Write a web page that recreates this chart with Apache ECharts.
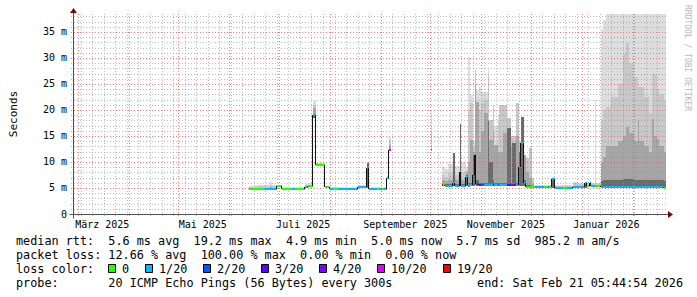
<!DOCTYPE html>
<html><head><meta charset="utf-8">
<script src="https://cdn.jsdelivr.net/npm/echarts@6/dist/echarts.min.js"></script>
<style>html,body{margin:0;padding:0;background:#fff}#c{width:697px;height:297px}</style>
</head><body><div id="c"></div>
<script>
// ================= DATA =================
const rangeStart = '2025-02-26 05:44:54';
const rangeEnd = '2026-02-21 05:44:54';
const yMaxMs = 38.46;

const segStart = [
 '2025-06-13','2025-06-18','2025-06-22','2025-06-26','2025-06-27','2025-06-30','2025-07-03','2025-07-09','2025-07-11','2025-07-17',
 '2025-07-19','2025-07-22','2025-07-24','2025-07-29','2025-08-01','2025-08-03','2025-08-06','2025-08-18','2025-08-24','2025-08-25',
 '2025-08-30','2025-08-31','2025-09-02','2025-09-03','2025-09-05','2025-09-06','2025-09-07','2025-10-01 12:00','2025-10-02 06:00','2025-10-08',
 '2025-10-09','2025-10-10','2025-10-12','2025-10-15','2025-10-16','2025-10-19','2025-10-20','2025-10-23','2025-10-24','2025-10-25',
 '2025-10-27','2025-10-28','2025-10-29','2025-10-31','2025-11-01','2025-11-03','2025-11-05','2025-11-06','2025-11-08','2025-11-09',
 '2025-11-11','2025-11-12','2025-11-14','2025-11-17','2025-11-19','2025-11-20','2025-11-22','2025-11-24','2025-11-25','2025-11-27',
 '2025-11-28','2025-11-30','2025-12-02','2025-12-03','2025-12-04','2025-12-09','2025-12-11','2025-12-13','2025-12-14','2025-12-16',
 '2025-12-21','2025-12-23','2025-12-27','2025-12-30','2026-01-03','2026-01-04','2026-01-06','2026-01-07','2026-01-09','2026-01-10',
 '2026-01-13','2026-01-14','2026-01-16','2026-01-19','2026-01-23','2026-01-26','2026-01-28','2026-01-30','2026-02-02','2026-02-04',
 '2026-02-05','2026-02-08','2026-02-11','2026-02-13','2026-02-14','2026-02-16','2026-02-17','2026-02-20'
];
// median rtt in ms (null = no data)
const medianMs = [
 4.8,4.8,4.9,4.9,4.9,5.3,4.85,4.85,4.85,5.1,
 5.3,19.0,9.5,5.1,4.8,4.9,4.85,5.2,8.8,4.75,
 4.75,4.75,4.75,4.75,6.9,12.3,null,12.3,null,5.6,
 5.6,5.4,5.4,6.0,5.4,8.1,5.4,7.1,5.5,5.6,
 7.5,11.3,5.7,5.6,5.5,5.5,5.5,5.5,5.6,5.5,
 5.5,5.5,5.5,5.6,5.5,5.6,5.5,9.1,13.6,6.0,
 5.2,5.1,5.1,5.1,5.1,5.1,5.1,5.1,6.7,5.0,
 5.0,5.0,5.1,5.2,5.9,5.4,5.9,5.3,5.3,5.3,
 5.1,5.1,5.1,5.1,5.1,5.1,5.1,5.1,5.1,5.1,
 5.1,5.1,5.1,5.1,5.1,5.1,5.1,5.0
];
// lost pings out of 20
const lossCount = [
 0,0,1,1,1,0,0,1,0,1,
 0,1,0,0,1,0,1,1,1,1,
 0,1,0,1,1,10,null,1,null,19,
 0,1,1,1,1,1,1,1,1,1,
 10,1,2,3,2,1,1,1,3,1,
 2,1,1,3,2,4,1,1,1,1,
 0,0,0,0,1,0,1,0,1,1,
 0,1,1,1,1,0,1,1,1,0,
 1,1,1,1,1,1,1,1,1,1,
 1,1,1,1,1,1,1,0
];
// smoke band boundaries (ms)
const smokeMin = [
 4.8,4.8,4.9,4.9,4.9,5.3,4.85,4.85,4.85,5.1,
 5.3,18.5,9.5,5.1,4.8,4.9,4.85,5.2,5.0,4.75,
 4.75,4.75,4.75,4.75,6.9,12.3,null,12.3,null,5.3,
 5.3,5.2,5.2,5.3,5.2,5.3,5.2,5.3,5.2,5.3,
 5.3,5.5,5.3,5.3,5.3,5.3,5.3,5.3,5.3,5.3,
 5.3,5.3,5.3,5.3,5.3,5.3,5.3,5.3,5.3,5.3,
 5.0,5.0,5.0,5.1,5.1,5.1,5.1,5.1,5.0,5.0,
 5.0,5.0,5.1,5.2,5.0,5.4,5.9,5.3,5.3,5.3,
 5.0,5.0,5.0,5.0,5.0,5.0,5.0,5.0,5.0,5.0,
 5.0,5.0,5.0,5.0,5.0,5.0,5.0,5.0
];
const smokeDark = [
 4.8,4.8,4.9,4.9,4.9,5.3,4.85,4.85,4.85,5.1,
 5.3,19.3,9.5,5.1,4.8,4.9,4.85,5.2,9.75,4.75,
 4.75,4.75,4.75,4.75,6.9,12.3,null,12.3,null,5.8,
 5.8,5.8,5.8,11.8,5.8,17.3,5.8,7.5,6.0,6.0,
 11.3,6.0,6.5,6.0,6.0,6.0,17.8,10.0,6.5,6.0,
 6.0,6.0,6.0,16.5,6.0,13.6,6.0,12.0,18.7,6.5,
 5.5,5.5,5.3,5.1,5.1,5.1,5.1,5.1,6.9,5.0,
 5.0,5.0,5.1,5.2,6.0,5.4,5.9,5.3,5.3,5.3,
 6.3,6.5,6.5,6.5,6.5,6.8,6.8,6.8,6.5,6.5,
 6.5,6.5,6.5,6.5,6.5,6.5,6.5,6.3
];
const smokeMid = [
 4.9,4.9,5.0,5.1,5.0,5.4,4.9,4.9,4.9,5.2,
 5.4,20.3,9.6,5.2,4.9,5.0,4.9,5.3,9.75,4.85,
 4.85,4.85,4.85,4.85,7.0,13.2,null,12.5,null,6.6,
 6.5,6.3,6.5,11.8,6.5,17.3,6.5,8.0,10.0,14.2,
 12.0,24.8,21.6,12.0,16.0,19.4,17.8,14.2,15.8,13.3,
 12.0,12.0,15.6,16.5,13.0,13.6,15.0,12.0,18.7,11.3,
 8.0,7.0,5.8,5.2,5.2,5.2,5.2,5.2,6.9,5.1,
 5.1,5.1,5.3,5.4,6.0,5.6,6.0,5.5,5.6,5.5,
 10.0,11.0,13.0,13.0,14.0,15.0,16.8,15.5,14.0,18.0,
 14.0,13.0,12.0,18.3,15.0,14.5,13.0,12.0
];
const smokeLight = [
 5.1,5.3,5.3,5.5,5.3,5.5,5.0,5.0,5.0,5.5,
 5.6,21.0,9.8,5.3,5.0,5.1,5.0,5.4,9.8,4.95,
 4.95,4.95,4.95,4.95,7.2,14.2,null,16.0,null,7.6,
 7.5,7.2,7.8,11.8,7.5,17.3,8.0,8.5,20.0,21.3,
 13.0,27.7,21.6,20.0,21.3,22.0,26.7,18.1,21.0,13.3,
 17.8,21.0,21.0,18.5,15.0,15.0,21.3,14.0,18.7,11.3,
 10.7,12.6,7.0,5.4,5.4,5.4,5.4,5.4,7.0,5.3,
 5.3,5.4,5.9,5.8,6.1,5.9,6.2,5.8,6.5,5.8,
 18.0,20.0,20.6,22.5,25.0,31.0,32.9,29.0,26.3,24.5,
 24.5,22.5,19.5,27.0,27.0,24.0,23.0,22.0
];
const smokeMax = [
 5.3,5.6,5.6,6.2,5.6,5.6,5.2,5.2,5.2,5.8,
 6.0,21.8,9.9,5.4,5.2,5.2,5.2,5.5,10.0,5.1,
 5.1,5.1,5.1,5.1,7.3,14.9,null,19.4,null,9.4,
 9.0,8.6,9.6,11.8,9.2,17.3,10.0,9.0,30.2,22.9,
 14.0,27.7,23.8,24.5,23.5,23.5,27.7,18.1,21.0,17.0,
 19.0,21.0,21.0,18.5,15.0,15.0,21.3,14.0,18.7,11.3,
 10.7,12.6,7.0,5.6,5.6,5.6,5.6,5.6,7.1,5.5,
 5.5,5.6,6.2,6.0,6.2,6.0,6.3,6.0,21.9,6.0,
 35.4,37.3,38.4,38.4,38.4,38.4,38.4,38.4,38.4,38.4,
 38.4,38.4,38.4,38.4,38.4,38.4,38.4,38.4
];

const lossSteps  = [0, 1, 2, 3, 4, 10, 19];
const lossColors = ['#26ff00','#00b8ff','#0059ff','#5e00ff','#7e00ff','#dd00ff','#ff0000'];
const lossLabels = ['0','1/20','2/20','3/20','4/20','10/20','19/20'];

const monthStarts = ['2025-03-01','2025-04-01','2025-05-01','2025-06-01','2025-07-01','2025-08-01',
                     '2025-09-01','2025-10-01','2025-11-01','2025-12-01','2026-01-01','2026-02-01'];
const xLabelDates = ['2025-03-16','2025-05-16','2025-07-16','2025-09-16','2025-11-16','2026-01-16'];
const xLabelTexts = ['März 2025','Mai 2025','Juli 2025','September 2025','November 2025','Januar 2026'];

const legendRtt  = 'median rtt:  5.6 ms avg  19.2 ms max  4.9 ms min  5.0 ms now  5.7 ms sd  985.2 m am/s';
const legendLoss = 'packet loss: 12.66 % avg  100.00 % max  0.00 % min  0.00 % now';
const legendColorTitle = 'loss color:';
const legendProbe = 'probe:       20 ICMP Echo Pings (56 Bytes) every 300s';
const legendEnd = 'end: Sat Feb 21 05:44:54 2026';
const watermark = 'RRDTOOL / TOBI OETIKER';
const yAxisTitle = 'Seconds';

// ================= STYLE / HELPERS =================
const MONO = '"DejaVu Sans Mono", monospace';
const smokeColors = ['#6a6a6a', '#a6a6a6', '#c8c8c8', '#dddddd'];
function ts(s) {
  const m = s.match(/(\d+)-(\d+)-(\d+)(?:[ T](\d+):(\d+)(?::(\d+))?)?/);
  return new Date(+m[1], +m[2] - 1, +m[3], +(m[4] || 0), +(m[5] || 0), +(m[6] || 0)).getTime();
}
function lossColor(n) {
  let c = lossColors[0];
  lossSteps.forEach((s, k) => { if (n >= s) c = lossColors[k]; });
  return c;
}
const nb = s => s.replace(/ /g, '\u00a0');

const startTs = ts(rangeStart), endTs = ts(rangeEnd);
const segEndTs = segStart.map((s, i) => i + 1 < segStart.length ? ts(segStart[i + 1]) : endTs);
const smokeData = [], medData = [];
segStart.forEach((s, i) => {
  if (medianMs[i] == null) return;
  smokeData.push([ts(s), segEndTs[i], smokeMin[i], smokeDark[i], smokeMid[i], smokeLight[i], smokeMax[i]]);
  const nxt = (i + 1 < medianMs.length && medianMs[i + 1] != null) ? medianMs[i + 1] : -1;
  medData.push([ts(s), segEndTs[i], medianMs[i], lossCount[i], nxt]);
});

// grid lines: weekly (Mondays) minor, monthly major
const vgridData = [];
{
  const s = new Date(startTs);
  let k = 0;
  while (true) {
    const d = new Date(s.getFullYear(), s.getMonth(), s.getDate() + k);
    if (d.getTime() > endTs) break;
    if (d.getDay() === 1 && d.getTime() >= startTs) vgridData.push([d.getTime(), 0]);
    k++;
  }
  monthStarts.forEach(m => vgridData.push([ts(m), 1]));
}
const hgridData = [];
for (let v = 1; v < yMaxMs; v++) hgridData.push([startTs, v, v % 5 === 0 ? 1 : 0]);

const MAJOR = 'rgba(230,100,100,0.8)', MINOR = 'rgba(140,140,140,0.6)';
const chart = echarts.init(document.getElementById('c'), null, { renderer: 'svg' });

const option = {
  animation: false,
  backgroundColor: '#ffffff',
  grid: { left: 66, top: 14, width: 600, height: 200, containLabel: false },
  xAxis: {
    type: 'time', min: startTs, max: endTs,
    axisLine: { show: false }, axisTick: { show: false }, axisLabel: { show: false }, splitLine: { show: false }
  },
  yAxis: {
    type: 'value', min: 0, max: yMaxMs, interval: 5,
    axisLine: { show: false }, axisTick: { show: false }, splitLine: { show: false },
    axisLabel: {
      margin: 6, color: '#000', fontFamily: MONO, fontSize: 10,
      formatter: v => (Math.abs(v % 5) < 1e-6 ? (v === 0 ? '0' : v + ' m') : '')
    },
    name: yAxisTitle, nameLocation: 'middle', nameGap: 54, nameRotate: 90,
    nameTextStyle: { color: '#000', fontFamily: MONO, fontSize: 11 }
  },
  series: [
    {
      name: 'smoke', type: 'custom', z: 1, silent: true,
      encode: { x: 0, y: 2 },
      data: smokeData,
      renderItem: (params, api) => {
        const x0 = Math.round(api.coord([api.value(0), 0])[0]);
        const x1 = Math.round(api.coord([api.value(1), 0])[0]);
        const w = Math.max(1, x1 - x0);
        const ys = [2, 3, 4, 5, 6].map(k => Math.round(api.coord([api.value(0), api.value(k)])[1]));
        const children = [];
        for (let b = 0; b < 4; b++) {
          const bot = ys[b], top = ys[b + 1];
          if (bot - top > 0) children.push({ type: 'rect', shape: { x: x0, y: top, width: w, height: bot - top }, style: { fill: smokeColors[b] } });
        }
        return { type: 'group', children };
      }
    },
    {
      name: 'vgrid', type: 'custom', z: 2, silent: true,
      encode: { x: 0, y: 1 },
      data: vgridData,
      renderItem: (params, api) => {
        const cs = params.coordSys;
        const x = Math.round(api.coord([api.value(0), 0])[0]) + 0.5;
        const major = api.value(1) === 1;
        return { type: 'line', shape: { x1: x, y1: cs.y, x2: x, y2: cs.y + cs.height + 2 },
          style: { stroke: major ? MAJOR : MINOR, lineWidth: 1, lineDash: [1, 2] } };
      }
    },
    {
      name: 'hgrid', type: 'custom', z: 2, silent: true,
      encode: { x: 0, y: 1 },
      data: hgridData,
      renderItem: (params, api) => {
        const cs = params.coordSys;
        const y = Math.round(api.coord([api.value(0), api.value(1)])[1]) + 0.5;
        const major = api.value(2) === 1;
        return { type: 'line', shape: { x1: cs.x - 2, y1: y, x2: cs.x + cs.width, y2: y },
          style: { stroke: major ? MAJOR : MINOR, lineWidth: 1, lineDash: [1, 2] } };
      }
    },
    {
      name: 'median', type: 'custom', z: 3, silent: true,
      encode: { x: 0, y: 2 },
      data: medData,
      renderItem: (params, api) => {
        const t0 = api.value(0);
        const x0 = Math.round(api.coord([t0, 0])[0]);
        const x1 = Math.round(api.coord([api.value(1), 0])[0]);
        const w = Math.max(1, x1 - x0);
        const y = Math.round(api.coord([t0, api.value(2)])[1]);
        const children = [];
        children.push({ type: 'rect', shape: { x: x0, y: y - 1, width: w, height: 2 }, style: { fill: lossColor(api.value(3)) } });
        const nxt = api.value(4);
        if (nxt >= 0) {
          const yn = Math.round(api.coord([t0, nxt])[1]);
          if (yn !== y) children.push({ type: 'line', shape: { x1: x0 + w - 0.5, y1: y, x2: x0 + w - 0.5, y2: yn }, style: { stroke: '#111', lineWidth: 1 } });
        }
        return { type: 'group', children };
      }
    },
    {
      name: 'xlabels', type: 'custom', z: 4, silent: true,
      encode: { x: 0, y: 1 },
      data: xLabelDates.map(d => [ts(d), 0]),
      renderItem: (params, api) => {
        const p = api.coord([api.value(0), 0]);
        return { type: 'text', x: p[0], y: p[1] + 10.5,
          style: { text: xLabelTexts[params.dataIndex], fill: '#000', font: '10px ' + MONO, align: 'center', verticalAlign: 'middle' } };
      }
    }
  ]
};
chart.setOption(option);

// axes, arrows, legend text
const pBL = chart.convertToPixel({ gridIndex: 0 }, [startTs, 0]);
const pTR = chart.convertToPixel({ gridIndex: 0 }, [endTs, yMaxMs]);
const xl = Math.round(pBL[0]) + 0.5, yb = Math.round(pBL[1]) + 0.5;
const xr = Math.round(pTR[0]), yt = Math.round(pTR[1]);
const AXIS = '#505050', ARROW = '#7f0000';
const g = [];
g.push({ type: 'line', shape: { x1: xl - 4, y1: yb, x2: xr + 2, y2: yb }, style: { stroke: AXIS, lineWidth: 1 }, z: 10 });
g.push({ type: 'polygon', shape: { points: [[xr + 2, yb - 3.5], [xr + 7, yb], [xr + 2, yb + 3.5]] }, style: { fill: ARROW }, z: 10 });
g.push({ type: 'line', shape: { x1: xl, y1: yb + 4, x2: xl, y2: yt - 1 }, style: { stroke: AXIS, lineWidth: 1 }, z: 10 });
g.push({ type: 'polygon', shape: { points: [[xl - 3.5, yt - 1], [xl, yt - 6], [xl + 3.5, yt - 1]] }, style: { fill: ARROW }, z: 10 });

const LF = '11.8px ' + MONO, CH = 7.1, LX = 16;
const rows = [241, 255, 269, 283];
g.push({ type: 'text', x: LX, y: rows[0], style: { text: nb(legendRtt), font: LF, fill: '#000', verticalAlign: 'middle' } });
g.push({ type: 'text', x: LX, y: rows[1], style: { text: nb(legendLoss), font: LF, fill: '#000', verticalAlign: 'middle' } });
g.push({ type: 'text', x: LX, y: rows[2], style: { text: nb(legendColorTitle), font: LF, fill: '#000', verticalAlign: 'middle' } });
let bx = LX + 13 * CH;
lossLabels.forEach((lab, k) => {
  const x = Math.round(bx);
  g.push({ type: 'rect', shape: { x: x + 0.5, y: rows[2] - 4.5, width: 7, height: 8 }, style: { fill: lossColors[k], stroke: '#000', lineWidth: 1 } });
  g.push({ type: 'text', x: x + 14, y: rows[2], style: { text: lab, font: LF, fill: '#000', verticalAlign: 'middle' } });
  bx = x + 14 + lab.length * CH + 16;
});
g.push({ type: 'text', x: LX, y: rows[3], style: { text: nb(legendProbe), font: LF, fill: '#000', verticalAlign: 'middle' } });
g.push({ type: 'text', x: 683, y: rows[3], style: { text: nb(legendEnd), font: LF, fill: '#000', align: 'right', verticalAlign: 'middle' } });
g.push({ type: 'text', x: 687, y: 5, rotation: -Math.PI / 2,
  style: { text: nb(watermark), font: '8px ' + MONO, fill: '#b8b8b8', align: 'left', verticalAlign: 'middle' } });

chart.setOption({ graphic: g });
</script>
</body></html>
